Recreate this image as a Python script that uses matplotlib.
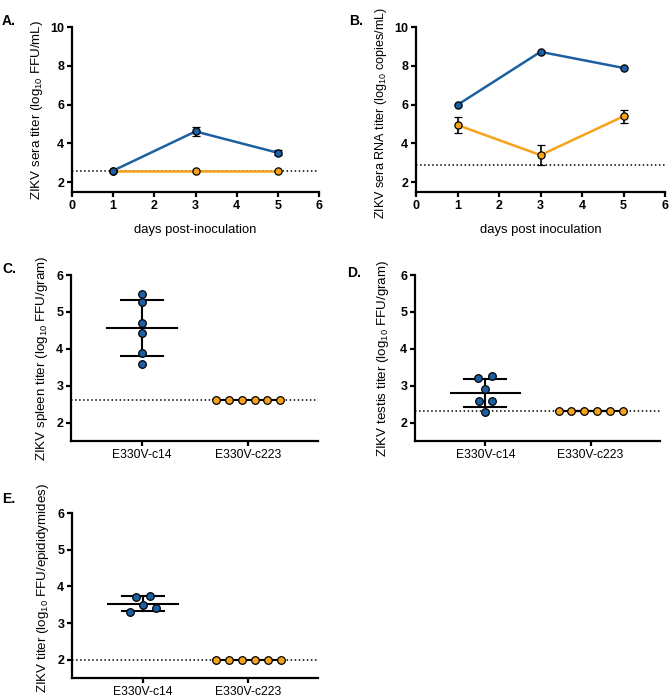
import numpy as np
import matplotlib
matplotlib.use("Agg")
import matplotlib.pyplot as plt

plt.rcParams['font.family'] = ['Liberation Sans', 'DejaVu Sans']
plt.rcParams['mathtext.fontset'] = 'custom'
plt.rcParams['mathtext.rm'] = 'Liberation Sans'
plt.rcParams['mathtext.default'] = 'regular'

BLUE = '#1c5fa3'
ORANGE = '#f7a21b'

# panel A - sera infectious titer
days = [1, 3, 5]
a_c14 = [2.6, 4.62, 3.52]
a_c14_err = [0.0, 0.21, 0.12]
a_c223 = [2.6, 2.6, 2.6]
a_lod = 2.6

# panel B - sera RNA titer
b_c14 = [5.99, 8.72, 7.89]
b_c223 = [4.95, 3.40, 5.40]
b_c223_err = [0.39, 0.53, 0.35]
b_lod = 2.9

groups = ['E330V-c14', 'E330V-c223']

# panel C - spleen
c_c14 = [5.49, 5.28, 4.70, 4.43, 3.89, 3.59]
c_c14_jit = [0, 0, 0, 0, 0, 0]
c_c223 = [2.6, 2.6, 2.6, 2.6, 2.6, 2.6]
c_lod = 2.6

# panel D - testis
d_c14 = [3.20, 3.25, 2.90, 2.59, 2.59, 2.29]
d_c14_jit = [-0.07, 0.06, 0.0, -0.065, 0.06, 0.0]
d_c223 = [2.3, 2.3, 2.3, 2.3, 2.3, 2.3]
d_lod = 2.3

# panel E - epididymides
e_c14 = [3.29, 3.71, 3.49, 3.75, 3.41]
e_c14_jit = [-0.12, -0.06, 0.0, 0.065, 0.125]
e_c223 = [2.0, 2.0, 2.0, 2.0, 2.0, 2.0]
e_lod = 2.0

YLAB_SIZE = 9.6


def style_axes(ax):
    for s in ['top', 'right']:
        ax.spines[s].set_visible(False)
    for s in ['left', 'bottom']:
        ax.spines[s].set_linewidth(1.6)
    ax.tick_params(width=1.6, length=3.5, direction='out', labelsize=9, pad=2)


def line_panel(ax, ylabel, xlabel, ysize):
    style_axes(ax)
    ax.set_xlim(0, 6)
    ax.set_ylim(1.5, 10)
    ax.set_xticks(range(0, 7))
    ax.set_yticks([2, 4, 6, 8, 10])
    for t in ax.get_xticklabels() + ax.get_yticklabels():
        t.set_fontweight('bold')
    ax.set_ylabel(ylabel, fontsize=ysize)
    ax.set_xlabel(xlabel, fontsize=9.4, labelpad=9)


fig = plt.figure(figsize=(6.7, 6.99), dpi=100)

# ---- A
axA = fig.add_axes([72/670, 1-192/699, 247/670, 165/699])
axA.axhline(a_lod, color='black', ls=':', lw=1.1, zorder=1)
axA.plot(days, a_c223, color=ORANGE, lw=1.8, marker='o', ms=5.2, mfc=ORANGE, mec='black', mew=0.9, zorder=3)
axA.errorbar(days, a_c14, yerr=a_c14_err, color=BLUE, lw=1.8, marker='o', ms=5.2, mfc=BLUE,
             mec='black', mew=0.9, ecolor='black', elinewidth=1.2, capsize=3, capthick=1.2, zorder=4)
line_panel(axA, r'ZIKV sera titer (log$_{10}$ FFU/mL)', 'days post-inoculation', YLAB_SIZE)
axA.yaxis.set_label_coords(-0.111, 0.5)

# ---- B
axB = fig.add_axes([416/670, 1-192/699, 249/670, 165/699])
axB.axhline(b_lod, color='black', ls=':', lw=1.1, zorder=1)
axB.plot(days, b_c14, color=BLUE, lw=1.8, marker='o', ms=5.2, mfc=BLUE, mec='black', mew=0.9, zorder=3)
axB.errorbar(days, b_c223, yerr=b_c223_err, color=ORANGE, lw=1.8, marker='o', ms=5.2, mfc=ORANGE,
             mec='black', mew=0.9, ecolor='black', elinewidth=1.2, capsize=3, capthick=1.2, zorder=4)
line_panel(axB, r'ZIKV sera RNA titer (log$_{10}$ copies/mL)', 'days post inoculation', 9.1)
axB.yaxis.set_label_coords(-0.110, 0.48)


def dot_panel(ax, c14, jit, c223, lod, ylabel, label_x, label_y=0.5):
    style_axes(ax)
    ax.axhline(lod, color='black', ls=':', lw=1.1, zorder=1)
    for i, vals in enumerate([c14, c223]):
        m = np.mean(vals)
        sd = np.std(vals, ddof=1)
        ax.plot([i - 0.33, i + 0.33], [m, m], color='black', lw=1.5, zorder=2)
        if sd > 0:
            ax.plot([i, i], [m - sd, m + sd], color='black', lw=1.5, zorder=2)
            ax.plot([i - 0.2, i + 0.2], [m + sd, m + sd], color='black', lw=1.5, zorder=2)
            ax.plot([i - 0.2, i + 0.2], [m - sd, m - sd], color='black', lw=1.5, zorder=2)
    ax.scatter(np.array(jit), c14, s=30, color=BLUE, edgecolor='black', lw=0.9, zorder=3)
    n = len(c223)
    ax.scatter(1 + np.linspace(-0.305, 0.305, n), c223, s=30, color=ORANGE, edgecolor='black', lw=0.9, zorder=3)
    ax.set_xlim(-0.67, 1.66)
    ax.set_ylim(1.5, 6)
    ax.set_xticks([0, 1])
    ax.set_xticklabels(groups, fontsize=8.7)
    ax.set_yticks([2, 3, 4, 5, 6])
    for t in ax.get_yticklabels():
        t.set_fontweight('bold')
    ax.set_ylabel(ylabel, fontsize=YLAB_SIZE)
    ax.yaxis.set_label_coords(label_x, label_y)


axC = fig.add_axes([71/670, 1-441/699, 247/670, 166/699])
dot_panel(axC, c_c14, c_c14_jit, c_c223, c_lod, r'ZIKV spleen titer (log$_{10}$ FFU/gram)', -0.087)

axD = fig.add_axes([415/670, 1-441/699, 245/670, 166/699])
dot_panel(axD, d_c14, d_c14_jit, d_c223, d_lod, r'ZIKV testis titer (log$_{10}$ FFU/gram)', -0.096)

axE = fig.add_axes([72/670, 1-678/699, 246/670, 165/699])
dot_panel(axE, e_c14, e_c14_jit, e_c223, e_lod, r'ZIKV titer (log$_{10}$ FFU/epididymides)', -0.087, 0.545)

for lab, x, y in [('A.', 2, 14), ('B.', 349, 14), ('C.', 2, 262), ('D.', 347, 266), ('E.', 2, 492)]:
    fig.text(x/670, 1 - y/699, lab, fontsize=10, fontweight='bold', va='top', ha='left')

fig.savefig('out.png', dpi=100)
